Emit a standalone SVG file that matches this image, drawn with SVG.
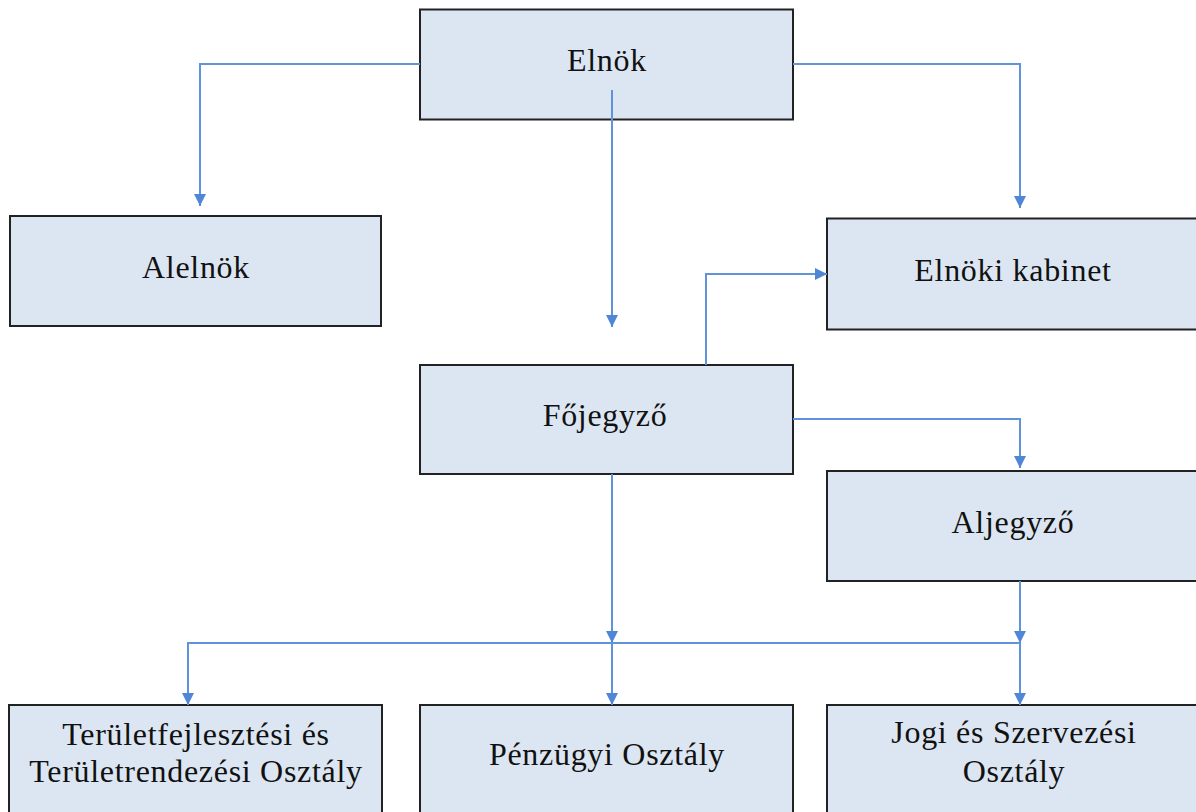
<svg xmlns="http://www.w3.org/2000/svg" width="1196" height="812" viewBox="0 0 1196 812">
<style>
.box{fill:#DCE6F2;stroke:#222;stroke-width:2}
.t{font-family:"Liberation Serif","Times New Roman",serif;font-size:32px;letter-spacing:0.7px;fill:#111;text-anchor:middle}
.c{fill:none;stroke:#5F93DB;stroke-width:2}
</style>
<defs>
<marker id="ah" markerUnits="userSpaceOnUse" markerWidth="13" markerHeight="13" refX="12" refY="6.5" orient="auto">
<path d="M0,0.5 L12,6.5 L0,12.5 z" fill="#4F86D6"/>
</marker>
</defs>
<rect width="1196" height="812" fill="#fff"/>
<g id="elnok"><rect class="box" x="420" y="9.5" width="373" height="110"/><text class="t" x="607" y="71">Elnök</text></g>
<g id="alelnok"><rect class="box" x="10" y="216" width="371" height="110"/><text class="t" x="196" y="278">Alelnök</text></g>
<g id="kabinet"><rect class="box" x="827" y="218.5" width="370" height="111"/><text class="t" x="1013" y="281">Elnöki kabinet</text></g>
<g id="fojegyzo"><rect class="box" x="420" y="365" width="373" height="109"/><text class="t" x="605" y="426">Főjegyző</text></g>
<g id="aljegyzo"><rect class="box" x="827" y="471" width="370" height="110"/><text class="t" x="1013" y="533">Aljegyző</text></g>
<g id="teruletfejl"><rect class="box" x="9" y="705" width="373" height="120"/><text class="t" x="196" y="745">Területfejlesztési és</text><text class="t" x="196" y="782">Területrendezési Osztály</text></g>
<g id="penzugyi"><rect class="box" x="420" y="705" width="373" height="120"/><text class="t" x="607" y="765">Pénzügyi Osztály</text></g>
<g id="jogi"><rect class="box" x="827" y="705" width="370" height="120"/><text class="t" x="1014" y="743">Jogi és Szervezési</text><text class="t" x="1014" y="782">Osztály</text></g>
<g id="connectors">
<polyline class="c" points="420,64 200,64 200,206" marker-end="url(#ah)"/>
<polyline class="c" points="793,64 1020,64 1020,208" marker-end="url(#ah)"/>
<line class="c" x1="612" y1="90" x2="612" y2="327" marker-end="url(#ah)"/>
<polyline class="c" points="706,365 706,274 827,274" marker-end="url(#ah)"/>
<polyline class="c" points="793,419 1020,419 1020,468" marker-end="url(#ah)"/>
<line class="c" x1="612" y1="474" x2="612" y2="643" marker-end="url(#ah)"/>
<line class="c" x1="1020" y1="581" x2="1020" y2="643" marker-end="url(#ah)"/>
<polyline class="c" points="1020,643 188,643 188,705" marker-end="url(#ah)"/>
<line class="c" x1="612" y1="643" x2="612" y2="705" marker-end="url(#ah)"/>
<line class="c" x1="1020" y1="643" x2="1020" y2="705" marker-end="url(#ah)"/>
</g>
</svg>
